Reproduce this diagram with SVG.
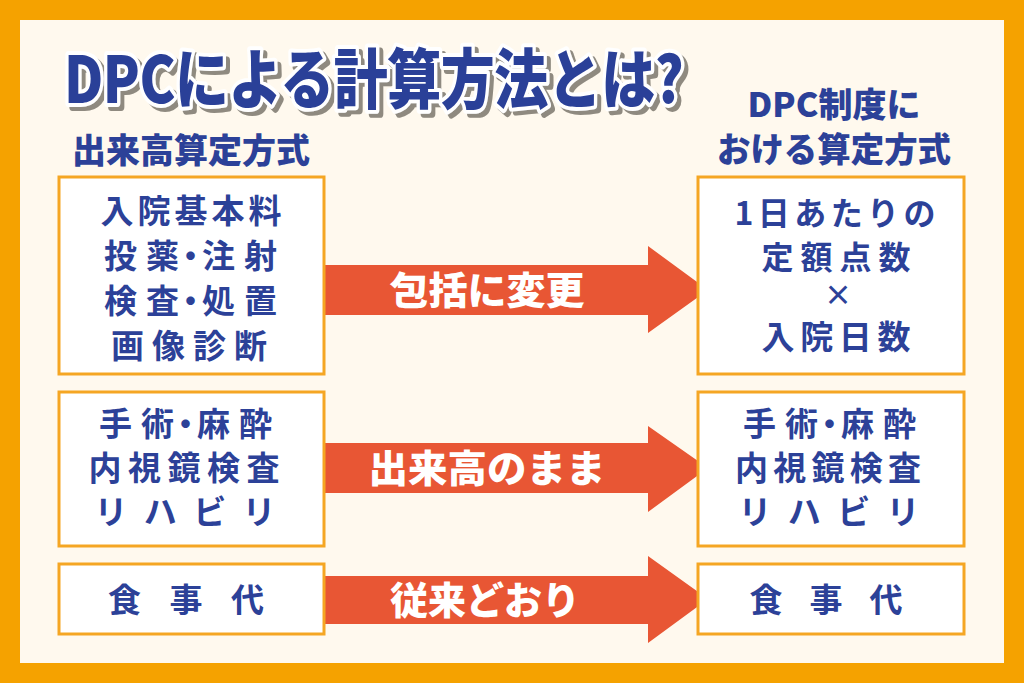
<svg xmlns="http://www.w3.org/2000/svg" width="1024" height="683" viewBox="0 0 1024 683">
<defs>
<filter id="shadow" x="-5%" y="-20%" width="110%" height="150%">
<feDropShadow dx="4" dy="4" stdDeviation="0.6" flood-color="#8f8a80" flood-opacity="1"/>
</filter>
</defs>
<style>
.bg{fill:#F5A200}
.cream{fill:#FFF9EE}
.box{fill:#FFFFFF;stroke:#F5A623;stroke-width:3}
.arrow{fill:#E85634}
.t{font-family:"Noto Sans CJK JP","Noto Sans",sans-serif;fill:#2C4198;font-weight:700;text-anchor:middle}
.n{font-size:33px;letter-spacing:4px}
.h{font-size:34px;font-weight:900;letter-spacing:0}
.d{letter-spacing:9px}
.dn{letter-spacing:-5px}
.lbl{font-family:"Noto Sans CJK JP","Noto Sans",sans-serif;fill:#FFFFFF;font-weight:900;font-size:38px;text-anchor:middle}
.title{font-family:"Noto Sans CJK JP","Noto Sans",sans-serif;font-weight:900;font-size:54px;letter-spacing:-0.5px;fill:#2C4198;stroke:#FFFFFF;stroke-width:6.5;stroke-linejoin:round;paint-order:stroke}
</style>
<rect class="bg" x="0" y="0" width="1024" height="683"/>
<rect class="cream" x="20" y="20" width="984" height="643"/>
<g id="title" filter="url(#shadow)">
<text class="title" transform="translate(64,103) scale(1,1.2)" x="0" y="0">DPCによる計算方法とは?</text>
</g>
<g id="heading-left"><text class="t h" x="191" y="163" textLength="238" lengthAdjust="spacingAndGlyphs">出来高算定方式</text></g>
<g id="heading-right"><text class="t h" x="834" y="117">DPC制度に</text><text class="t h" x="834" y="162" textLength="234" lengthAdjust="spacingAndGlyphs">おける算定方式</text></g>
<g id="connectors">
<g id="arrow1"><polygon class="arrow" points="323,265 648,265 648,246 708,290 648,333 648,315 323,315"/><text class="lbl" x="487" y="304" textLength="195" lengthAdjust="spacingAndGlyphs">包括に変更</text></g>
<g id="arrow2"><polygon class="arrow" points="323,443 648,443 648,426 708,468 648,512 648,493 323,493"/><text class="lbl" x="487" y="482" textLength="237" lengthAdjust="spacingAndGlyphs">出来高のまま</text></g>
<g id="arrow3"><polygon class="arrow" points="323,576 648,576 648,556 708,599 648,643 648,624 323,624"/><text class="lbl" x="485" y="614" textLength="190" lengthAdjust="spacingAndGlyphs">従来どおり</text></g>
</g>
<g id="box-left-1"><rect class="box" x="59" y="177" width="265" height="197"/>
<text class="t n" x="193" y="223">入院基本料</text>
<text class="t n d" x="195" y="268">投<tspan class="dn">薬・</tspan>注射</text>
<text class="t n d" x="195" y="313">検<tspan class="dn">査・</tspan>処置</text>
<text class="t n" x="191" y="358" textLength="160">画像診断</text></g>
<g id="box-right-1"><rect class="box" x="698" y="177" width="266" height="197"/>
<text class="t n" x="837" y="225" textLength="205" style="font-size:32px">1日あたりの</text><text class="t n" x="838" y="269" textLength="153" style="font-size:32px">定額点数</text><text class="t" x="838" y="306" style="font-size:28px">×</text><text class="t n" x="838" y="349" textLength="153">入院日数</text></g>
<g id="box-left-2"><rect class="box" x="59" y="392" width="265" height="154"/>
<text class="t n d" x="190" y="436">手<tspan class="dn">術・</tspan>麻酔</text><text class="t n" x="186" y="480" textLength="195">内視鏡検査</text><text class="t n" x="187" y="524" textLength="185">リハビリ</text></g>
<g id="box-right-2"><rect class="box" x="698" y="392" width="266" height="154"/>
<text class="t n d" x="834" y="436">手<tspan class="dn">術・</tspan>麻酔</text><text class="t n" x="830" y="480" textLength="190">内視鏡検査</text><text class="t n" x="831" y="524" textLength="185">リハビリ</text></g>
<g id="box-left-3"><rect class="box" x="59" y="564" width="265" height="70"/>
<text class="t n" x="188" y="612" textLength="160">食事代</text></g>
<g id="box-right-3"><rect class="box" x="698" y="564" width="266" height="70"/>
<text class="t n" x="828" y="612" textLength="157">食事代</text></g>
</svg>
